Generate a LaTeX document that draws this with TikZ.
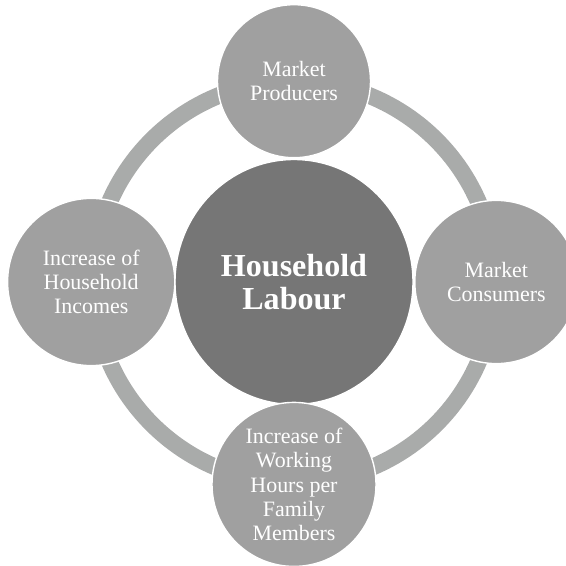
\documentclass[tikz,border=0pt]{standalone}
\usepackage{fontspec}
\setmainfont{Liberation Serif}
\usepackage{xcolor}
\definecolor{labour-dark}{HTML}{767676}
\definecolor{labour-grey}{HTML}{A0A0A0}
\definecolor{labour-ring}{HTML}{A9ABAA}
\usepackage{tikz}
\usetikzlibrary{shapes.geometric}

\tikzset{
    satellite/.style={circle, fill=labour-grey, draw=white, line width=1pt, inner sep=0pt, text=white, align=center, font=\fontsize{15.6}{17.1}\selectfont},
    hub/.style={ellipse, fill=labour-dark, draw=white, line width=1pt, inner sep=0pt, text=white, align=center, font=\fontsize{22.8}{23.6}\selectfont\bfseries}
}

\begin{document}
\begin{tikzpicture}

    % Frame
    \useasboundingbox (-7.35, -7.1) rectangle (6.8, 7.05);
    \coordinate (middle) at (0, 0);

    % Ring
    \draw[labour-ring, line width=0.42cm] (middle) circle (5.025);

    % Hub
    \node[hub, minimum width=5.95cm, minimum height=6.125cm] (labour) at (middle) {Household\\Labour};

    % Satellites
    \node[satellite, minimum size=3.825cm] (producers) at (0, 5.02) {Market\\Producers};
    \node[satellite, minimum size=4.08cm] (consumers) at (5.06, 0) {Market\\Consumers};
    \node[satellite, minimum size=4.1cm] (hours) at (0, -5.06) {Increase of\\Working\\Hours per\\Family\\Members};
    \node[satellite, minimum size=4.18cm] (incomes) at (-5.07, 0) {Increase of\\Household\\Incomes};

\end{tikzpicture}
\end{document}
